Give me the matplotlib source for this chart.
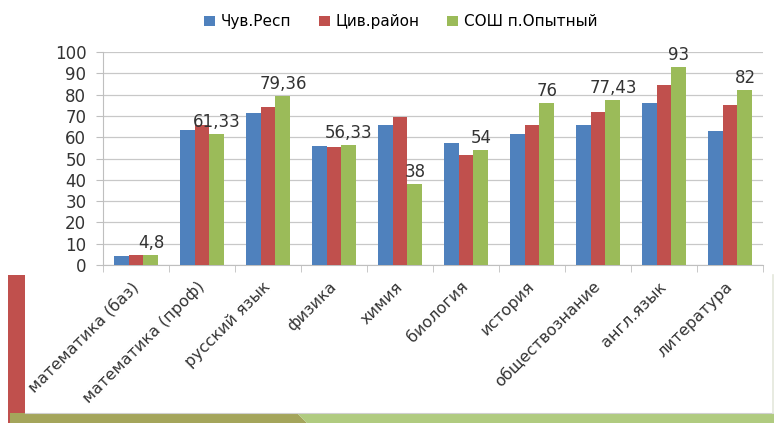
import numpy as np
import matplotlib.pyplot as plt
from matplotlib.patches import Rectangle, Polygon

# категории и значения
subjects = ['математика (баз)', 'математика (проф)', 'русский язык', 'физика', 'химия',
            'биология', 'история', 'обществознание', 'англ.язык', 'литература']
chuv = [4.3, 63.4, 71.5, 55.8, 65.7, 57.1, 61.6, 65.5, 75.9, 62.9]
civ = [4.9, 65.7, 74.3, 55.2, 69.5, 51.6, 65.7, 72.0, 84.5, 75.0]
school = [4.8, 61.33, 79.36, 56.33, 38, 54, 76, 77.43, 93, 82]
series_names = ['Чув.Респ', 'Цив.район', 'СОШ п.Опытный']
colors = ['#4F81BD', '#C0504D', '#9BBB59']

plt.rcParams['font.family'] = ['DejaVu Sans']

fig = plt.figure(figsize=(7.74, 4.23), dpi=100)
fig.patch.set_facecolor('white')

# оформление слайда
fig.patches.append(Rectangle((8 / 774, 0), 17 / 774, 148 / 423, transform=fig.transFigure,
                             facecolor='#C0504D', edgecolor='none', zorder=0))
fig.patches.append(Polygon([(10 / 774, 0), (10 / 774, 10 / 423), (297 / 774, 10 / 423),
                            (307 / 774, 0)], closed=True, transform=fig.transFigure,
                           facecolor='#A4A55B', edgecolor='none', zorder=0))
fig.patches.append(Polygon([(297 / 774, 10 / 423), (774 / 774, 10 / 423), (774 / 774, 0),
                            (307 / 774, 0)], closed=True, transform=fig.transFigure,
                           facecolor='#B0CB80', edgecolor='none', zorder=0))
fig.lines.append(plt.Line2D([25 / 774, 1], [10.5 / 423, 10.5 / 423], transform=fig.transFigure,
                            color='#D0D0D0', lw=0.8))
fig.lines.append(plt.Line2D([772.5 / 774, 772.5 / 774], [10 / 423, 148 / 423],
                            transform=fig.transFigure, color='#E4E8DC', lw=1.2))

ax = fig.add_axes([103 / 774, 1 - 265 / 423, 660 / 774, 213 / 423])
x = np.arange(len(subjects))
w = 0.227
for i, (vals, name, c) in enumerate(zip([chuv, civ, school], series_names, colors)):
    ax.bar(x + (i - 1) * w, vals, w, color=c, label=name, zorder=3)

for xi, v in zip(x, school):
    ax.text(xi + w, v + 1.5, f'{v:g}'.replace('.', ','), ha='center', va='bottom',
            fontsize=12, color='#333333', zorder=4)

ax.set_xlim(-0.5, len(subjects) - 0.5)
ax.set_ylim(0, 100)
ax.set_yticks(range(0, 101, 10))
ax.tick_params(axis='y', labelsize=12, length=5, pad=7, color='#BFBFBF', labelcolor='#333333')
ax.yaxis.grid(True, color='#C8C8C8', lw=0.9, zorder=0)
ax.set_xticks(x)
ax.set_xticklabels(subjects, rotation=45, ha='right', va='center', rotation_mode='anchor',
                   fontsize=11.5, color='#333333')
ax.tick_params(axis='x', length=0, pad=14)
ax.set_xticks(np.arange(-0.5, len(subjects)), minor=True)
ax.tick_params(axis='x', which='minor', length=5, color='#BFBFBF')
for s in ['top', 'right']:
    ax.spines[s].set_visible(False)
for s in ['left', 'bottom']:
    ax.spines[s].set_color('#BFBFBF')

fig.legend(loc='center', bbox_to_anchor=(0.518, 0.948), ncol=3, frameon=False,
           fontsize=11, handlelength=0.7, handleheight=0.7, columnspacing=1.8,
           handletextpad=0.4)

plt.savefig('out.png', dpi=100)
